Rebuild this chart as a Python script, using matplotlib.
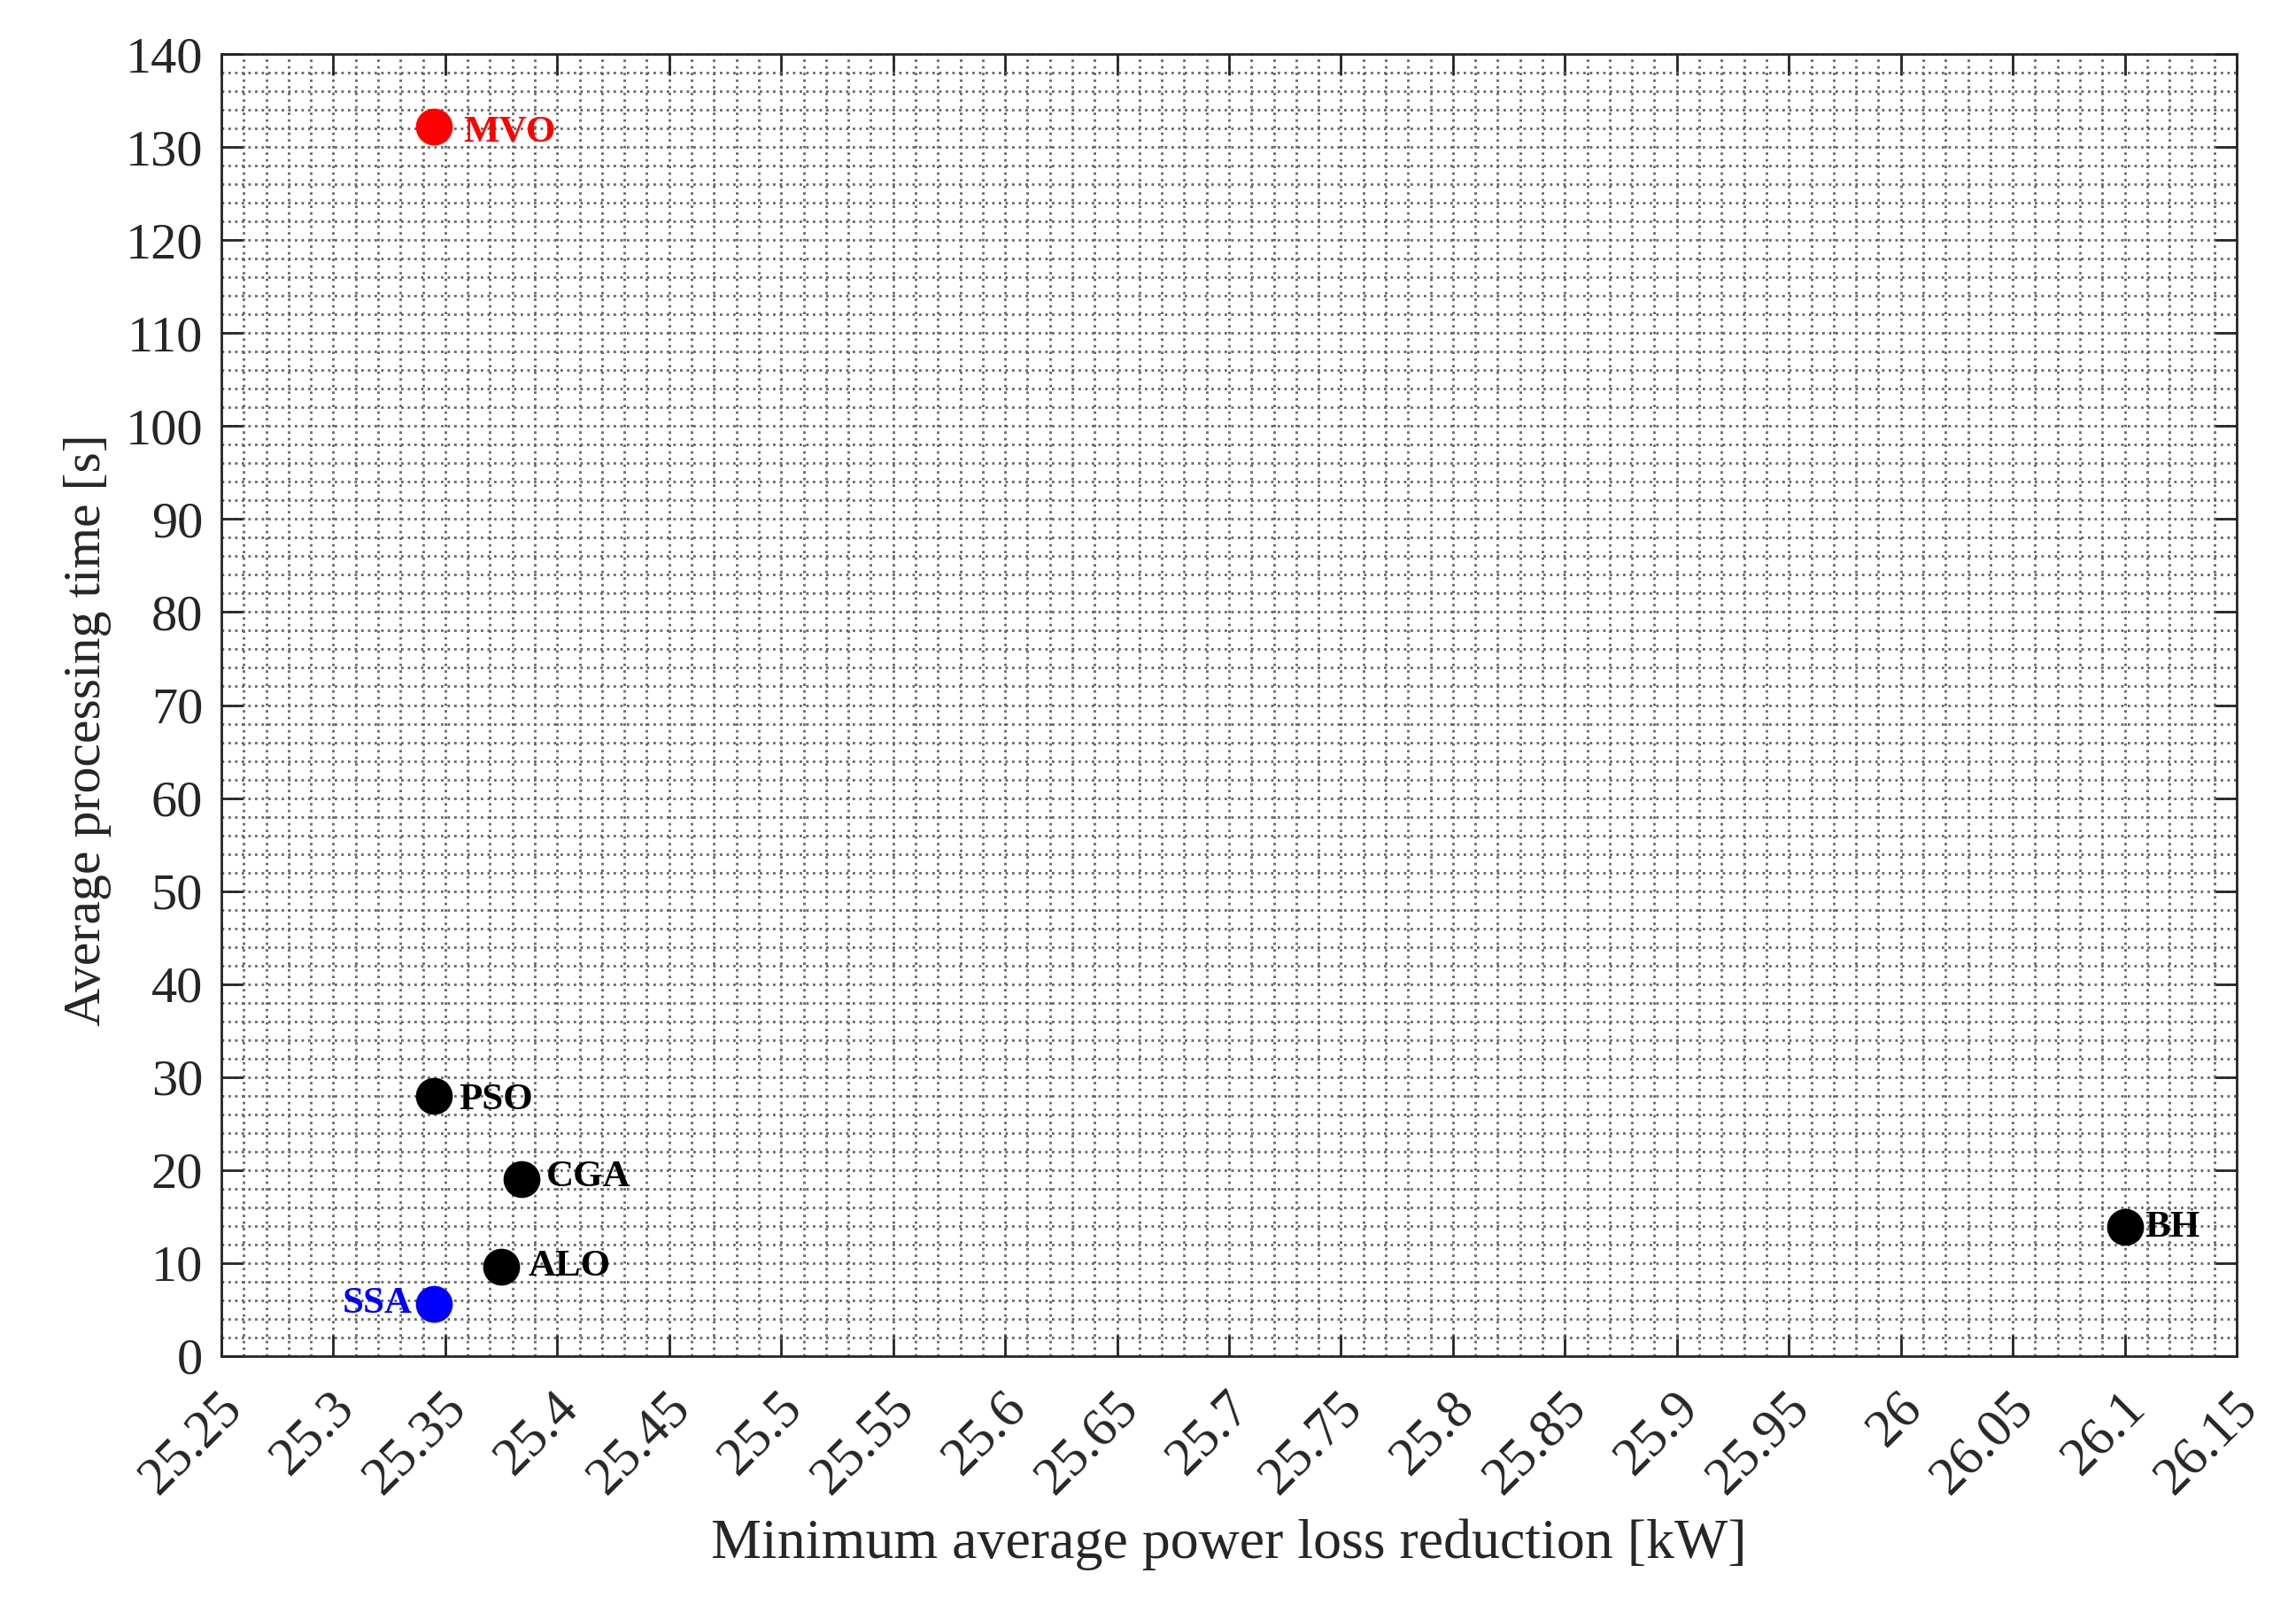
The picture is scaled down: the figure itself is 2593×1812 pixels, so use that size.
import numpy as np
import matplotlib
matplotlib.use('Agg')
import matplotlib.pyplot as plt
import matplotlib as mpl
from matplotlib.ticker import MultipleLocator
from matplotlib.transforms import ScaledTranslation

# algorithm results
names = ['MVO', 'PSO', 'CGA', 'ALO', 'SSA', 'BH']
loss = [25.345, 25.345, 25.384, 25.375, 25.345, 26.100]
ptime = [132.2, 28.0, 19.0, 9.6, 5.6, 13.9]
colors = ['red', 'black', 'black', 'black', 'blue', 'black']
# label offsets (points)
offs = [(12, -2.5), (10, -2), (10, 1), (11, 0), (-9, 0), (8, -0.5)]

xticks = np.arange(25.25, 26.151, 0.05)
xticklabels = ['25.25', '25.3', '25.35', '25.4', '25.45', '25.5', '25.55', '25.6',
               '25.65', '25.7', '25.75', '25.8', '25.85', '25.9', '25.95', '26',
               '26.05', '26.1', '26.15']
yticks = np.arange(0, 141, 10)

axc = '#262626'
mpl.rcParams['font.family'] = ['Liberation Serif', 'DejaVu Serif']
mpl.rcParams['axes.linewidth'] = 1.0
mpl.rcParams['axes.edgecolor'] = axc

fig = plt.figure(figsize=(12.965, 9.06), dpi=200)
ax = fig.add_axes([250/2593, 1 - 1532/1812, 2276/2593, 1471/1812])

for x, y, c, n, o in zip(loss, ptime, colors, names, offs):
    ax.plot(x, y, 'o', color=c, markersize=14, zorder=3)
    ha = 'right' if o[0] < 0 else 'left'
    ax.annotate(n, (x, y), xytext=o, textcoords='offset points', ha=ha, va='center',
                color=c, fontsize=15.5, fontweight='bold', zorder=4)

ax.set_xlim(25.25, 26.15)
ax.set_ylim(0, 140)
ax.set_xticks(xticks)
ax.set_xticklabels(xticklabels, rotation=45, ha='right', va='center', rotation_mode='anchor')
ax.set_yticks(yticks)
ax.xaxis.set_minor_locator(MultipleLocator(0.01))
ax.yaxis.set_minor_locator(MultipleLocator(2))
ax.tick_params(which='major', direction='in', length=8.5, width=1.0, color=axc,
               labelsize=21, labelcolor=axc, top=True, right=True, pad=7.5)
ax.tick_params(which='minor', length=0)
ax.xaxis.set_tick_params(pad=18, labelsize=22)
shift = ScaledTranslation(15/200, 0, fig.dpi_scale_trans)
for lab in ax.get_xticklabels():
    lab.set_transform(lab.get_transform() + shift)
ax.grid(True, which='both', color='0.4', linestyle=(0, (1, 1.7)), linewidth=1.0)
ax.set_axisbelow(True)

ax.set_xlabel('Minimum average power loss reduction [kW]', fontsize=23, color=axc, labelpad=6)
ax.set_ylabel('Average processing time [s]', fontsize=21.5, color=axc, labelpad=5.5)
ax.yaxis.label.set_y(0.481)

plt.savefig('out.png', dpi=200)
